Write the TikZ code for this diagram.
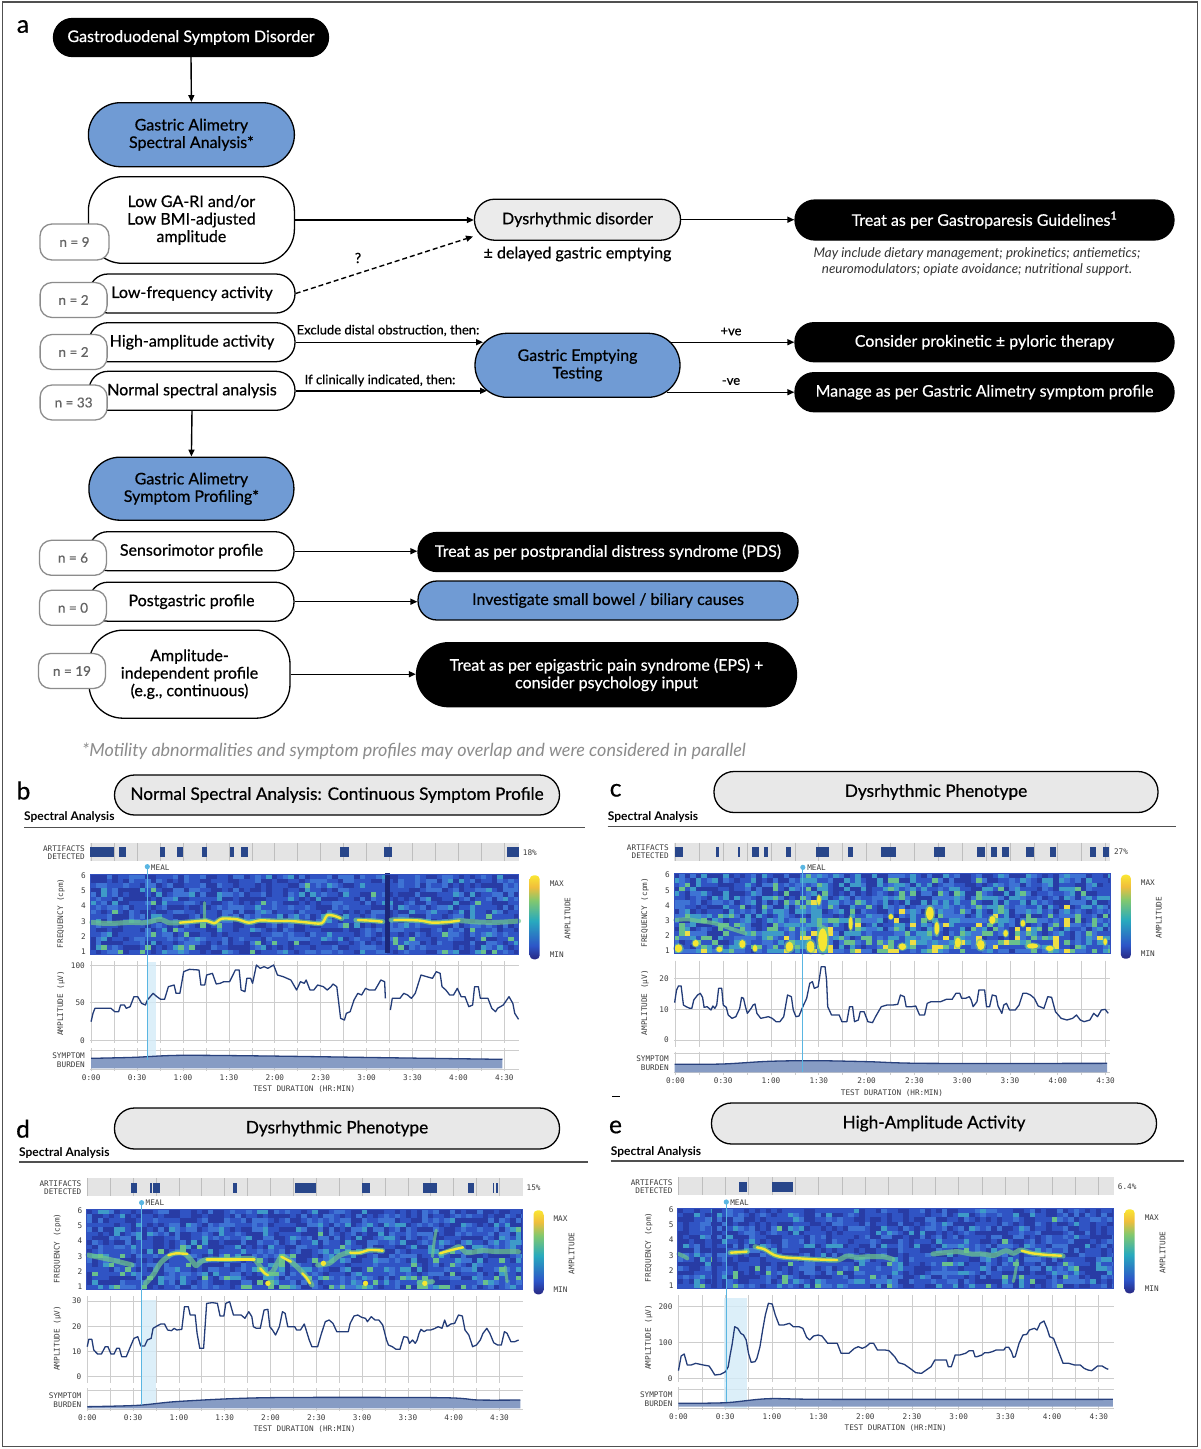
\documentclass[tikz,border=0pt]{standalone}
\usepackage{fontspec}
\setmainfont{Lato}[UprightFeatures={FakeBold=0.6}]
\newfontfamily\monof{DejaVu Sans Mono}
\usetikzlibrary{arrows.meta}
\definecolor{gablue}{RGB}{112,155,212}
\definecolor{dysg}{RGB}{235,235,235}
\definecolor{tgray}{RGB}{232,232,232}
\definecolor{nboxc}{RGB}{140,140,140}
\definecolor{ntext}{RGB}{100,100,100}
\definecolor{framec}{RGB}{80,80,80}
\definecolor{artbg}{RGB}{228,228,228}
\definecolor{artc}{RGB}{40,70,138}
\definecolor{gridc}{RGB}{205,205,205}
\definecolor{agridc}{RGB}{190,190,190}
\definecolor{monoc}{RGB}{60,60,60}
\definecolor{spA}{RGB}{40,60,165}
\definecolor{spB}{RGB}{48,84,196}
\definecolor{spC}{RGB}{62,115,212}
\definecolor{spD}{RGB}{62,155,200}
\definecolor{spE}{RGB}{105,192,140}
\definecolor{spF}{RGB}{238,222,70}
\definecolor{spN}{RGB}{28,40,120}
\definecolor{specb}{RGB}{50,80,190}
\definecolor{bandG}{RGB}{110,200,140}
\definecolor{bandY}{RGB}{245,230,50}
\definecolor{cbN}{RGB}{40,40,130}
\definecolor{cbB}{RGB}{45,85,200}
\definecolor{cbT}{RGB}{40,170,190}
\definecolor{cbG}{RGB}{130,200,110}
\definecolor{cbO}{RGB}{240,190,60}
\definecolor{cbY}{RGB}{250,230,50}
\definecolor{ampc}{RGB}{35,60,120}
\definecolor{symfill}{RGB}{135,156,196}
\definecolor{symline}{RGB}{40,65,125}
\definecolor{mealc}{RGB}{90,182,226}
\definecolor{mealband}{RGB}{212,236,248}
\definecolor{footc}{RGB}{140,140,140}
\pgfdeclareverticalshading{cbar}{100bp}{color(0bp)=(cbN); color(25bp)=(cbN); color(33bp)=(cbB); color(48bp)=(cbT); color(60bp)=(cbG); color(68bp)=(cbO); color(75bp)=(cbY); color(100bp)=(cbY)}
\newcommand\fz[2]{\fontsize{#1pt}{#2pt}\selectfont}
\tikzset{
  pill/.style={draw=black, line width=1.3pt, rounded corners=19pt, minimum width=206pt, minimum height=39pt, inner sep=0pt, align=center, font=\fz{16}{17.5}},
  bpill/.style={pill, fill=black, text=white, minimum width=379pt},
  blpill/.style={pill, fill=gablue},
  wpill/.style={pill, fill=white},
  nbox/.style={draw=nboxc, fill=white, line width=1.3pt, rounded corners=12pt, minimum width=67pt, minimum height=35pt, inner sep=0pt, text=ntext, font=\fz{13.5}{15}},
  arr/.style={line width=1.4pt, -{Triangle[length=7pt,width=6pt]}},
  darr/.style={arr, dash pattern=on 5pt off 3pt},
  lbl/.style={font=\fz{13}{15}, inner sep=0pt},
  letter/.style={font=\fz{24.5}{28}, inner sep=0pt},
  tpill/.style={draw=black, line width=1.3pt, fill=tgray, rounded corners=20pt, minimum width=445pt, minimum height=40pt, inner sep=0pt, font=\fz{17.2}{19}},
  sahead/.style={font=\bfseries\fz{12}{13}, inner sep=0pt},
  hline/.style={draw=framec, line width=1.2pt},
  mono/.style={font=\monof\fz{7.7}{9}, text=monoc, inner sep=0pt},
  agrid/.style={draw=agridc, line width=0.7pt},
  vgrid/.style={draw=gridc, line width=0.7pt},
  bandglow/.style={draw=bandG, line width=5pt, opacity=0.7, line cap=round, line join=round},
  bandcore/.style={draw=bandY, line width=2.4pt, line cap=round, line join=round},
  ampline/.style={draw=ampc, line width=1.3pt, line join=round},
  symtop/.style={draw=symline, line width=1.3pt},
  mealline/.style={draw=mealc, line width=1.1pt},
}
% zoom-coordinate scope
\newcommand\zs[3]{\begin{scope}[shift={(#1,#2)},x=0.38270pt,y=-0.33333pt]#3\end{scope}}
% artifact bar: W, s, t0, pct, prefix
\newcommand\artbar[5]{%
  \fill[artbg] (0,0) rectangle (#1,18);
  \foreach \q in {0,...,18}{\draw[agrid] ({#3+\q*#2/2},0) -- ({#3+\q*#2/2},18);}
  \node[mono,anchor=east] (#5art1) at (-5,5) {ARTIFACTS};
  \node[mono,anchor=east] (#5art2) at (-5,13) {DETECTED};
  \node[mono,anchor=west] (#5pct) at (#1+4,9) {#4};
}
% spectrogram background: W, seed, 5 thresholds, row bias, column variance
\newcommand\specbg[9]{%
  \begin{scope}
  \clip (0,31) rectangle (#1,111);
  \fill[spB] (0,31) rectangle (#1,111);
  \pgfmathsetseed{#2}
  \foreach \ii in {0,...,80}{%
    \pgfmathsetmacro\cb{#9*(rnd-0.5)}%
    \foreach \jj in {0,...,17}{%
    \pgfmathsetmacro\rr{rnd+#8*(\jj/17-0.5)+\cb}%
    \pgfmathtruncatemacro\kk{(\rr>#3)+(\rr>#4)+(\rr>#5)+(\rr>#6)+(\rr>#7)}%
    \ifcase\kk\def\cc{spA}\or\def\cc{spB}\or\def\cc{spC}\or\def\cc{spD}\or\def\cc{spE}\else\def\cc{spF}\fi
    \fill[\cc] (\ii*5.5,31+\jj*4.4444) rectangle ++(5.7,4.6);
  }}
  \end{scope}}
% spectrogram frame, freq labels, colorbar: W, prefix
\newcommand\specframe[2]{%
  \draw[specb, line width=0.8pt] (0,31) rectangle (#1,111);
  \foreach \f in {1,...,6}{\node[mono,anchor=east] (#2f\f) at (-4,{32.4+(6-\f)*15.2}) {\f};}
  \node[mono,rotate=90] (#2fq) at (-29,70) {FREQUENCY (cpm)};
  \shade[shading=cbar, rounded corners=4pt] (#1+11,32) rectangle (#1+21,116);
  \node[mono] (#2max) at (#1+38,40) {MAX};
  \node[mono] (#2min) at (#1+38,111) {MIN};
  \node[mono,rotate=90] (#2amp) at (#1+49,75) {AMPLITUDE};
}
% amplitude grid, symptom strip, time axis: W, s, t0, ST, labels, prefix
\newcommand\ampgrid[6]{%
  \foreach \q in {0,...,18}{\draw[vgrid] ({#3+\q*#2/2},118) -- ({#3+\q*#2/2},#4-7);}
  \foreach \lab/\yy in {#5}{\draw[vgrid] (0,\yy) -- (#1,\yy); \node[mono,anchor=east] at (-5,\yy) {\lab};}
  \node[mono,rotate=90] (#6at) at (-29,160) {AMPLITUDE (µV)};
  \draw[vgrid] (0,#4) -- (#1,#4);
  \draw[vgrid] (0,#4+19) -- (#1,#4+19);
  \foreach \q in {0,...,18}{\draw[vgrid] ({#3+\q*#2/2},#4-2) -- ({#3+\q*#2/2},#4+21);}
  \node[mono,anchor=east] (#6s1) at (-5,#4+5) {SYMPTOM};
  \node[mono,anchor=east] (#6s2) at (-5,#4+14) {BURDEN};
  \foreach \jx/\tl in {0/0:00,1/0:30,2/1:00,3/1:30,4/2:00,5/2:30,6/3:00,7/3:30,8/4:00,9/4:30}{\node[mono] at ({#3+\jx*#2},#4+27) {\tl};}
  \node[mono] (#6td) at (#1/2,#4+39) {TEST DURATION (HR:MIN)};
}
\begin{document}
\begin{tikzpicture}[x=1pt,y=-1pt]
\useasboundingbox (0,0) rectangle (1200,1449);
\fill[white] (0,0) rectangle (1200,1449);
\draw[framec, line width=1.3pt] (2.5,2) rectangle (1197.5,1446.5);

% ================= panel a =================
\node[letter] (la) at (23,26.5) {a};
\node[bpill, minimum width=275pt, minimum height=38pt] (gsd) at (191,37.5) {Gastroduodenal Symptom Disorder};
\node[blpill, minimum height=64pt, rounded corners=32pt] (gasa) at (191.4,134.7) {Gastric Alimetry\\Spectral Analysis*};
\node[wpill, minimum height=86.6pt, rounded corners=34pt] (lowga) at (191.4,220) {Low GA-RI and/or\\Low BMI-adjusted\\amplitude};
\node[wpill] (lowf) at (192,293.5) {Low-frequency activity};
\node[wpill] (higha) at (192,342.2) {High-amplitude activity};
\node[wpill] (normal) at (192,390.8) {Normal spectral analysis};
\node[blpill, minimum width=205pt, minimum height=63pt, rounded corners=31pt] (gasp) at (191.4,488.7) {Gastric Alimetry\\Symptom Profiling*};
\node[wpill, minimum width=205pt] (sens) at (191.5,551.2) {Sensorimotor profile};
\node[wpill, minimum width=205pt] (post) at (191.5,601.7) {Postgastric profile};
\node[wpill, minimum width=201pt, minimum height=88pt, rounded corners=34pt] (ampind) at (189.5,674.2) {Amplitude-\\independent profile\\(e.g., continuous)};

\node[nbox, minimum width=69pt, minimum height=36pt] (n9) at (74.5,242) {n = 9};
\node[nbox] (n2a) at (73.6,300) {n = 2};
\node[nbox] (n2b) at (73.6,352) {n = 2};
\node[nbox] (n33) at (73.6,402.5) {n = 33};
\node[nbox] (n6) at (73,557.8) {n = 6};
\node[nbox] (n0) at (73,607.8) {n = 0};
\node[nbox] (n19) at (72,671) {n = 19};

\node[pill, fill=dysg, minimum width=206pt, minimum height=41pt, rounded corners=20pt] (dysr) at (577.5,219.7) {Dysrhythmic disorder};
\node[inner sep=0pt, font=\fz{16}{17}] (dge) at (577.5,254) {± delayed gastric emptying};
\node[bpill, minimum height=40pt, rounded corners=20pt] (tgp) at (984.5,220) {Treat as per Gastroparesis Guidelines\textsuperscript{1}};
\node[inner sep=0pt, align=center, font=\itshape\fz{13.4}{15.3}, text=black!80] (note) at (977,261.6) {May include dietary management; prokinetics; antiemetics;\\neuromodulators; opiate avoidance; nutritional support.};
\node[blpill, minimum width=205pt, minimum height=64pt, rounded corners=32pt] (get) at (577.5,365.3) {Gastric Emptying\\Testing};
\node[bpill] (cons) at (984.5,342.2) {Consider prokinetic ± pyloric therapy};
\node[bpill] (man) at (984.5,392.2) {Manage as per Gastric Alimetry symptom profile};
\node[bpill, minimum width=380pt] (pds) at (608,552) {Treat as per postprandial distress syndrome (PDS)};
\node[blpill, minimum width=380pt] (inv) at (608,600.5) {Investigate small bowel / biliary causes};
\node[bpill, minimum width=380pt, minimum height=64pt, rounded corners=32pt] (eps) at (606.5,674.7) {Treat as per epigastric pain syndrome (EPS) +\\consider psychology input};
\node[inner sep=0pt, font=\itshape\fz{18}{20}, text=footc] (foot) at (414,751) {*Motility abnormalities and symptom profiles may overlap and were considered in parallel};

\draw[arr] (gsd.south) -- (gasa.north);
\draw[arr] (lowga.east) -- (lowga.east -| dysr.west);
\coordinate (dq) at (473,236.5);
\draw[darr] (lowf.east) -- (dq);
\node[inner sep=0pt, font=\fz{14}{15}] (qm) at (358,258) {?};
\draw[arr] (dysr.east) -- (dysr.east -| tgp.west);
\coordinate (geta) at (483,342.2);
\coordinate (getb) at (487,390.8);
\draw[arr] (higha.east) -- (geta);
\draw[arr] (normal.east) -- (getb);
\node[lbl] (lex) at (388,330.5) {Exclude distal obstruction, then:};
\node[lbl] (lif) at (380,380.5) {If clinically indicated, then:};
\coordinate (getc) at (670,342.2);
\coordinate (getd) at (667,392.2);
\draw[arr] (getc) -- (cons.west);
\draw[arr] (getd) -- (man.west);
\node[lbl] (lpos) at (731,331.5) {+ve};
\node[lbl] (lneg) at (731,381.5) {-ve};
\draw[arr] (normal.south) -- (gasp.north);
\draw[arr] (sens.east) -- (sens.east -| pds.west);
\draw[arr] (post.east) -- (post.east -| inv.west);
\draw[arr] (ampind.east) -- (ampind.east -| eps.west);

% ================= panel b =================
\node[letter] (lb) at (23.5,790.5) {b};
\node[tpill] (tb) at (337,795) {Normal Spectral Analysis: Continuous Symptom Profile};
\node[sahead,anchor=west] (sab) at (24,817.5) {Spectral Analysis};
\draw[hline] (24,827.3) -- (585,827.3);
\begin{scope}[shift={(90,843.3)}]
  \artbar{428.7}{45.9}{1.2}{18\%}{b}
\end{scope}
\zs{0}{760}{\foreach \a/\b in {235/298,312/328,418/432,463/477,527/540,602/612,630/648,888/912,1003/1023,1326/1355}{\fill[artc] (\a,262) rectangle (\b,292);}}
\begin{scope}[shift={(90,843.3)}]
  \specbg{428.7}{7}{0.3}{0.7}{0.9}{0.98}{5}{0.1}{0.06}
\end{scope}
\zs{0}{760}{%
  \fill[spN] (1005,340) rectangle (1018,578);
  \draw[bandglow] plot[smooth] coordinates {(240,487) (270,490) (300,490) (340,487) (380,488) (420,478) (440,488) (470,488) (500,485) (540,482) (560,490) (580,476) (620,478) (650,488) (680,481) (720,483) (760,483) (800,487) (840,490) (855,466) (875,468) (893,476)};
  \draw[bandglow] plot[smooth] coordinates {(930,480) (970,482) (1000,485)};
  \draw[bandglow] plot[smooth] coordinates {(1022,480) (1060,480) (1100,482) (1130,488) (1170,486) (1200,482) (1250,486) (1300,487) (1355,483)};
  \draw[bandglow, line width=3pt] (535,428) -- (535,475);
  \draw[bandcore] plot[smooth] coordinates {(470,488) (500,485) (540,482) (560,490) (580,476) (620,478) (650,488) (680,481) (720,483) (760,483) (800,487) (840,490) (855,466) (875,468) (890,475)};
  \draw[bandcore] plot[smooth] coordinates {(935,480) (970,482) (998,485)};
  \draw[bandcore] plot[smooth] coordinates {(1030,480) (1060,480) (1100,482) (1130,488) (1170,486) (1200,482)};
}
\begin{scope}[shift={(90,843.3)}]
  \specframe{428.7}{b}
  \ampgrid{428.7}{45.9}{1.2}{207}{100/122,50/159.5,0/197}{b}
\end{scope}
\zs{0}{760}{%
  \fill[mealband, opacity=0.8] (385,605) rectangle (408,925);
  \fill[symfill] plot[smooth] coordinates {(238,895) (350,892) (470,886) (700,888) (1000,893) (1313,898)} -- (1313,925) -- (238,925) -- cycle;
  \draw[symtop] plot[smooth] coordinates {(238,895) (350,892) (470,886) (700,888) (1000,893) (1313,898)};
  \draw[ampline] plot coordinates {(238,785) (243,760) (248,745) (290,745) (300,755) (310,755) (315,735) (325,735) (330,745) (340,740) (350,710) (360,710) (370,730) (380,735) (385,720) (400,700) (410,710) (420,718) (430,718) (440,680) (455,675) (460,700) (470,700) (480,635) (495,628) (520,630) (525,675) (535,675) (540,645) (555,640) (565,672) (575,670) (585,665) (600,665) (615,630) (625,630) (630,690) (640,695) (645,655) (655,655) (660,670) (670,615) (680,625) (690,620) (700,625) (715,615) (725,645) (740,650) (750,655) (760,660) (775,690) (785,665) (795,670) (800,660) (810,690) (820,690) (830,675) (845,680) (855,690) (865,680) (870,672) (880,680) (890,775) (900,780) (905,760) (915,755) (925,720) (935,700) (945,705) (955,685) (965,690) (980,690) (995,660) (1005,665) (1007,715)};
  \draw[ampline] plot coordinates {(1020,750) (1025,715) (1045,715) (1055,700) (1065,705) (1075,715) (1085,700) (1100,645) (1115,650) (1130,655) (1140,635) (1150,640) (1155,680) (1165,690) (1175,705) (1185,705) (1195,685) (1205,710) (1215,710) (1225,740) (1235,735) (1240,680) (1250,680) (1255,715) (1275,715) (1285,745) (1295,755) (1300,745) (1315,735) (1330,710) (1340,730) (1345,760) (1355,778)};
  \draw[mealline] (385,320) -- (385,900);
  \fill[mealc] (385,320) circle (2.6pt);
  \node[mono,anchor=west] (bmeal) at (394,322) {MEAL};
}

% ================= panel c =================
\node[letter] (lc) at (615.6,790.3) {c};
\node[tpill, minimum width=444pt, minimum height=41pt] (tc) at (936,792) {Dysrhythmic Phenotype};
\node[sahead,anchor=west] (sac) at (607.7,817) {Spectral Analysis};
\draw[hline] (607.7,826.7) -- (1176,826.7);
\draw[line width=1pt] (612,1096) -- (620,1096);
\begin{scope}[shift={(673.9,842.7)}]
  \artbar{436}{47.8}{1.5}{27\%}{c}
\end{scope}
\zs{600}{760}{\foreach \a/\b in {195/217,302/312,360/365,398/415,428/440,485/498,565/598,648/660,735/773,873/902,985/1005,1022/1038,1050/1068,1113/1135,1175/1192,1280/1296,1313/1330}{\fill[artc] (\a,262) rectangle (\b,292);}}
\begin{scope}[shift={(673.9,842.7)}]
  \specbg{436}{23}{0.2}{0.46}{0.68}{0.87}{1.03}{0.25}{0.3}
\end{scope}
\zs{600}{760}{%
  \draw[bandglow, line width=4pt] plot[smooth] coordinates {(197,480) (230,478) (262,484) (300,490) (340,505) (380,520)};
  \foreach \x/\y/\ra/\rb in {205/565/10/12,250/550/8/10,312/568/8/8,372/552/8/12,405/565/6/10,495/560/10/15,550/560/10/18,582/540/12/35,572/420/5/15,655/490/5/20,790/560/10/10,862/460/10/20,880/505/6/20,935/548/8/15,995/555/10/15,1025/480/8/12,1105/490/6/10,1130/558/15/8,1175/565/10/8,1320/545/5/10,760/470/6/8,1060/520/6/10}{%
    \fill[bandG, opacity=0.6] (\x,\y) ellipse ({\ra*1.4} and {\rb*1.3});
    \fill[bandY] (\x,\y) ellipse ({\ra} and {\rb});}
}
\begin{scope}[shift={(673.9,842.7)}]
  \specframe{436}{c}
  \ampgrid{436}{47.8}{1.5}{211}{20/135.6,10/166.5,0/197.3}{c}
\end{scope}
\zs{600}{760}{%
  \fill[symfill] plot[smooth] coordinates {(195,913) (320,912) (440,904) (560,902) (700,905) (850,910) (1325,910)} -- (1325,937) -- (195,937) -- cycle;
  \draw[symtop] plot[smooth] coordinates {(195,913) (320,912) (440,904) (560,902) (700,905) (850,910) (1325,910)};
  \draw[ampline] plot coordinates {(195,728) (200,690) (205,678) (212,678) (218,735) (225,740) (235,745) (240,745) (245,720) (255,705) (262,700) (268,712) (272,742) (280,740) (290,750) (295,738) (300,745) (305,735) (310,685) (318,685) (322,735) (330,742) (335,765) (345,775) (355,770) (365,745) (370,712) (375,715) (380,740) (385,760) (395,745) (400,735) (405,732) (410,760) (420,775) (440,770) (450,775) (460,785) (470,785) (480,770) (490,705) (500,710) (505,750) (512,770) (520,768) (530,740) (540,715) (548,670) (555,665) (560,685) (570,680) (578,620) (588,620) (592,660) (595,740) (605,765) (615,765) (625,765) (632,785) (645,785) (652,740) (660,740) (665,785) (675,780) (680,755) (690,755) (700,785) (712,788) (720,770) (735,740) (750,735) (765,735) (778,733) (785,705) (795,710) (800,740) (815,740) (825,738) (835,765) (848,765) (855,730) (865,725) (890,725) (905,718) (920,718) (930,700) (940,700) (945,715) (955,715) (965,710) (970,720) (975,740) (985,725) (990,690) (1005,690) (1010,740) (1018,740) (1025,705) (1035,708) (1040,738) (1050,760) (1055,735) (1062,730) (1070,750) (1085,750) (1095,735) (1105,700) (1115,700) (1125,705) (1135,715) (1145,738) (1160,745) (1170,710) (1180,712) (1190,755) (1205,775) (1220,780) (1235,775) (1245,765) (1255,780) (1265,785) (1280,780) (1290,760) (1300,770) (1310,750) (1320,748) (1328,760)};
  \draw[mealline] (530,322) -- (530,935);
  \fill[mealc] (530,322) circle (2.6pt);
  \node[mono,anchor=west] (cmeal) at (541,322) {MEAL};
}

% ================= panel d =================
\node[letter] (ld) at (23,1128.7) {d};
\node[tpill, minimum height=41pt] (td) at (337,1128.5) {Dysrhythmic Phenotype};
\node[sahead,anchor=west] (sad) at (19,1152.7) {Spectral Analysis};
\draw[hline] (19,1162) -- (588,1162);
\begin{scope}[shift={(86.5,1178.3)}]
  \artbar{436}{45.8}{0.8}{15\%}{d}
\end{scope}
\zs{0}{1100}{\foreach \a/\b in {342/358,393/397,400/417,608/620,772/825,947/968,1105/1143,1222/1238,1288/1292,1297/1302}{\fill[artc] (\a,248) rectangle (\b,280);}}
\begin{scope}[shift={(86.5,1178.3)}]
  \specbg{436}{41}{0.3}{0.68}{0.88}{0.975}{5}{0.18}{0.1}
\end{scope}
\zs{0}{1100}{%
  \draw[bandglow] plot[smooth] coordinates {(230,465) (260,472) (300,482) (345,495)};
  \draw[bandglow] plot[smooth] coordinates {(380,550) (400,525) (420,488) (450,462) (480,460) (500,480) (512,497) (525,485) (545,478) (600,478) (660,476) (680,500) (695,522) (712,515) (735,470) (755,480) (780,505) (800,530) (815,555)};
  \draw[bandglow] plot[smooth] coordinates {(830,495) (860,490) (885,468) (910,458) (940,458) (965,450) (1000,452)};
  \draw[bandglow] plot[smooth] coordinates {(1095,548) (1130,545)};
  \draw[bandglow, line width=3pt] plot[smooth] coordinates {(1130,470) (1135,420) (1140,390)};
  \draw[bandglow] plot[smooth] coordinates {(1150,462) (1180,450) (1200,440) (1220,458) (1260,452) (1300,455) (1355,455)};
  \draw[bandglow, line width=3pt] plot[smooth] coordinates {(1320,500) (1325,545)};
  \draw[bandcore] plot[smooth] coordinates {(440,466) (460,460) (490,462)};
  \draw[bandcore] plot[smooth] coordinates {(540,478) (600,478) (665,478)};
  \draw[bandcore] plot[smooth] coordinates {(680,505) (692,520) (700,525)};
  \draw[bandcore] plot[smooth] coordinates {(735,470) (760,485)};
  \draw[bandcore] plot[smooth] coordinates {(790,520) (800,532) (810,550)};
  \draw[bandcore] plot[smooth] coordinates {(915,458) (940,458) (965,450) (1000,452)};
  \draw[bandcore] plot[smooth] coordinates {(1150,460) (1180,450) (1210,442)};
  \foreach \x/\y in {700/550,955/550,1110/550,845/490}{\fill[bandY] (\x,\y) ellipse (7 and 8);}
}
\begin{scope}[shift={(86.5,1178.3)}]
  \specframe{436}{d}
  \ampgrid{436}{45.8}{0.8}{212}{30/122.7,20/147.9,10/173.1,0/198.3}{d}
\end{scope}
\zs{0}{1100}{%
  \fill[mealband, opacity=0.8] (370,600) rectangle (408,925);
  \fill[symfill] plot[smooth] coordinates {(228,920) (360,916) (470,904) (700,893) (1150,893) (1250,900) (1360,900)} -- (1360,925) -- (228,925) -- cycle;
  \draw[symtop] plot[smooth] coordinates {(228,920) (360,916) (470,904) (700,893) (1150,893) (1250,900) (1360,900)};
  \draw[ampline] plot coordinates {(228,740) (232,718) (240,718) (245,750) (255,762) (265,762) (275,740) (282,740) (290,762) (298,762) (305,745) (312,745) (318,770) (330,770) (340,742) (350,715) (360,710) (368,738) (378,738) (385,720) (395,715) (400,685) (410,678) (420,672) (430,672) (438,690) (448,692) (455,685) (462,690) (475,688) (482,620) (492,620) (497,645) (510,645) (515,700) (522,745) (532,745) (540,610) (555,608) (568,610) (575,648) (585,648) (590,610) (600,605) (610,645) (630,645) (640,655) (650,635) (658,650) (662,680) (670,685) (680,685) (690,630) (700,628) (705,680) (712,690) (720,705) (730,680) (738,635) (745,640) (752,680) (770,680) (775,690) (785,690) (795,672) (800,690) (808,720) (815,740) (830,740) (840,700) (850,665) (860,660) (870,670) (880,695) (890,695) (910,695) (915,670) (925,648) (935,645) (945,652) (955,655) (960,665) (970,650) (980,660) (990,660) (1000,675) (1010,720) (1015,735) (1025,740) (1035,748) (1045,748) (1055,710) (1065,712) (1070,730) (1078,720) (1085,730) (1090,720) (1095,700) (1100,688) (1108,695) (1115,690) (1125,690) (1135,686) (1145,680) (1155,685) (1162,660) (1168,680) (1178,672) (1188,670) (1198,645) (1208,648) (1215,690) (1225,705) (1235,740) (1245,735) (1255,720) (1262,700) (1272,685) (1280,700) (1290,728) (1300,735) (1310,735) (1318,695) (1325,700) (1335,725) (1345,725) (1355,720)};
  \draw[mealline] (370,308) -- (370,915);
  \fill[mealc] (370,308) circle (2.6pt);
  \node[mono,anchor=west] (dmeal) at (380,309) {MEAL};
}

% ================= panel e =================
\node[letter] (le) at (615.5,1127) {e};
\node[tpill, minimum height=41pt] (te) at (934,1123.5) {High-Amplitude Activity};
\node[sahead,anchor=west] (sae) at (610.7,1151.7) {Spectral Analysis};
\draw[hline] (610.7,1161) -- (1183.6,1161);
\begin{scope}[shift={(677.7,1177.3)}]
  \artbar{436}{46.7}{0.8}{6.4\%}{e}
\end{scope}
\zs{600}{1100}{\foreach \a/\b in {362/385,450/503}{\fill[artc] (\a,245) rectangle (\b,277);}}
\begin{scope}[shift={(677.7,1177.3)}]
  \specbg{436}{59}{0.33}{0.72}{0.91}{0.985}{5}{0.1}{0.08}
\end{scope}
\zs{600}{1100}{%
  \fill[spA] (292,325) rectangle (305,568);
  \draw[bandglow, line width=4pt] plot[smooth] coordinates {(205,462) (218,468) (228,475)};
  \draw[bandglow] plot[smooth] coordinates {(340,458) (385,455)};
  \draw[bandglow] plot[smooth] coordinates {(405,440) (430,448) (455,465) (480,472) (520,475) (560,478) (620,480) (645,468) (670,472) (700,470) (740,470) (765,478)};
  \draw[bandglow] plot[smooth] coordinates {(870,462) (900,458) (935,455) (970,462) (1000,462) (1030,466) (1060,452) (1080,460) (1100,450) (1130,460) (1170,465) (1210,468)};
  \draw[bandglow, line width=3pt] plot[smooth] coordinates {(1090,480) (1085,520) (1080,545)};
  \draw[bandcore] plot[smooth] coordinates {(342,458) (383,455)};
  \draw[bandcore] plot[smooth] coordinates {(410,442) (430,448) (455,465) (480,472) (520,475) (560,478) (620,480)};
  \draw[bandcore] plot[smooth] coordinates {(1102,452) (1130,460) (1170,465) (1205,467)};
}
\begin{scope}[shift={(677.7,1177.3)}]
  \specframe{436}{e}
  \ampgrid{436}{46.7}{0.8}{212}{200/129.3,100/165.1,0/201}{e}
\end{scope}
\zs{600}{1100}{%
  \fill[mealband, opacity=0.8] (325,595) rectangle (385,925);
  \fill[symfill] plot[smooth] coordinates {(205,910) (330,908) (440,896) (600,898) (1340,898)} -- (1340,920) -- (205,920) -- cycle;
  \draw[symtop] plot[smooth] coordinates {(205,910) (330,908) (440,896) (600,898) (1340,898)};
  \draw[ampline] plot coordinates {(205,812) (212,768) (220,762) (228,795) (238,795) (250,790) (270,795) (285,798) (292,810) (300,825) (315,823) (328,815) (335,800) (340,765) (345,735) (352,680) (360,685) (368,700) (375,705) (382,720) (388,760) (395,787) (405,785) (410,775) (418,740) (425,690) (432,645) (440,610) (450,612) (458,645) (468,675) (480,675) (495,670) (505,680) (520,680) (530,685) (540,712) (548,720) (558,708) (570,705) (580,708) (595,730) (610,730) (620,730) (630,760) (640,760) (650,760) (665,745) (675,740) (685,745) (695,740) (705,730) (715,730) (725,750) (745,750) (755,752) (770,770) (780,788) (795,793) (810,805) (825,818) (840,820) (855,808) (865,800) (875,780) (890,780) (905,780) (910,800) (918,800) (928,765) (940,765) (955,760) (965,752) (975,752) (980,770) (985,770) (998,765) (1005,758) (1015,758) (1025,755) (1035,750) (1055,750) (1060,742) (1068,742) (1075,755) (1080,772) (1085,770) (1095,730) (1105,705) (1115,703) (1122,690) (1135,685) (1142,690) (1150,670) (1160,663) (1168,685) (1175,710) (1185,715) (1195,745) (1210,790) (1225,790) (1240,795) (1255,795) (1265,805) (1275,810) (1285,812) (1300,798) (1312,798) (1322,805) (1328,808)};
  \draw[mealline] (330,306) -- (330,905);
  \fill[mealc] (330,306) circle (2.6pt);
  \node[mono,anchor=west] (emeal) at (340,307) {MEAL};
}
\end{tikzpicture}
\end{document}
